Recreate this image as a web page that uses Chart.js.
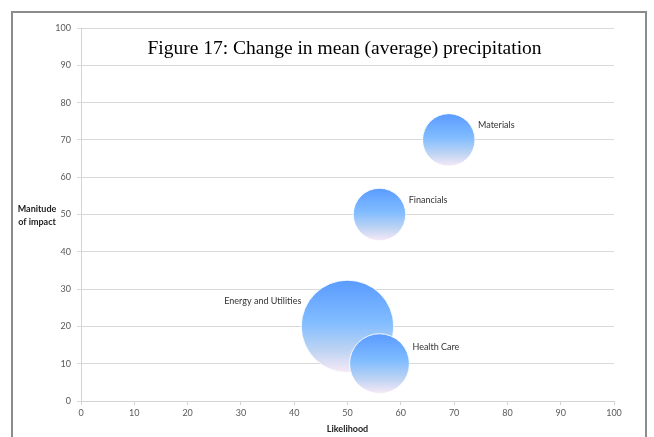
<!DOCTYPE html>
<html>
<head>
<meta charset="utf-8">
<script src="https://cdn.jsdelivr.net/npm/chart.js@4"></script>
<style>
  html, body { margin: 0; padding: 0; background: #fff; overflow: hidden; }
  .wrap { position: relative; width: 654px; height: 437px; }
  .frame { position: absolute; left: 11px; top: 11px; width: 632px; height: 460px;
           border: 2px solid #8c8c8c; pointer-events: none; }
</style>
</head>
<body>
<div class="wrap">
  <canvas id="myChart" width="654" height="437"></canvas>
  <div class="frame"></div>
</div>
<script>
// data
const sectors = ['Materials', 'Financials', 'Energy and Utilities', 'Health Care'];
const likelihood = [69, 56, 50, 56];
const impact = [70, 50, 20, 10];
const bubbleSize = [10, 10, 31, 13];
const labelSide = ['right', 'right', 'left', 'right'];

const chartTitle = 'Figure 17: Change in mean (average) precipitation';
const xTitle = 'Likelihood';
const yTitle = ['Manitude', 'of impact'];

const points = sectors.map((s, i) => ({
    x: likelihood[i],
    y: impact[i],
    r: 8.3 * Math.sqrt(bubbleSize[i])
}));

function bubbleFill(c) {
    const chart = c.chart;
    if (!chart.chartArea || !c.raw) return '#7fb4ff';
    const y = chart.scales.y.getPixelForValue(c.raw.y);
    const g = chart.ctx.createLinearGradient(0, y - c.raw.r, 0, y + c.raw.r);
    g.addColorStop(0, '#5a9bff');
    g.addColorStop(0.45, '#80bcff');
    g.addColorStop(0.75, '#bcd3f3');
    g.addColorStop(1, '#f7e9f6');
    return g;
}

// title, y-axis title and bubble labels
const overlay = {
    id: 'overlay',
    afterDatasetsDraw(chart) {
        const ctx = chart.ctx;
        const area = chart.chartArea;
        ctx.save();
        ctx.fillStyle = '#000';
        ctx.font = '19.5px "Liberation Serif"';
        ctx.textAlign = 'center';
        ctx.textBaseline = 'middle';
        ctx.fillText(chartTitle, (area.left + area.right) / 2 - 3, 49);

        ctx.font = 'bold 9px Lato';
        ctx.fillStyle = '#222';
        ctx.fillText(yTitle[0], 37, 209);
        ctx.fillText(yTitle[1], 37, 222);

        ctx.font = '9px Lato';
        ctx.fillStyle = '#333';
        chart.getDatasetMeta(0).data.forEach((el, i) => {
            const r = points[i].r;
            const y = el.y - r * 0.55;
            if (labelSide[i] === 'left') {
                ctx.textAlign = 'right';
                ctx.fillText(sectors[i], el.x - r, y);
            } else {
                ctx.textAlign = 'left';
                ctx.fillText(sectors[i], el.x + r + 3, y);
            }
        });
        ctx.restore();
    }
};

const ctx = document.getElementById('myChart').getContext('2d');
const myChart = new Chart(ctx, {
    type: 'bubble',
    data: {
        datasets: [{
            label: 'Sectors',
            data: points,
            backgroundColor: bubbleFill,
            borderColor: 'rgba(255,255,255,0.9)',
            borderWidth: 1
        }]
    },
    plugins: [overlay],
    options: {
        responsive: false,
        animation: false,
        layout: {
            autoPadding: false,
            padding: { left: 41, top: 28, right: 40, bottom: 0 }
        },
        plugins: {
            legend: { display: false },
            tooltip: { enabled: false }
        },
        scales: {
            x: {
                type: 'linear',
                min: 0,
                max: 100,
                afterFit: function (scale) { scale.height = 36; },
                ticks: {
                    stepSize: 10,
                    color: '#595959',
                    padding: 3,
                    maxRotation: 0,
                    font: { family: 'Lato', size: 9 }
                },
                grid: {
                    drawOnChartArea: false,
                    color: '#d4d4d4',
                    tickLength: 4
                },
                border: { color: '#d4d4d4' },
                title: {
                    display: true,
                    text: xTitle,
                    color: '#222',
                    font: { family: 'Lato', size: 9, weight: 'bold' },
                    padding: { top: 0, bottom: 3 }
                }
            },
            y: {
                type: 'linear',
                min: 0,
                max: 100,
                afterFit: function (scale) { scale.width = 40; },
                ticks: {
                    stepSize: 10,
                    color: '#595959',
                    padding: 6,
                    font: { family: 'Lato', size: 9 }
                },
                grid: {
                    color: '#d9d9d9',
                    tickLength: 4
                },
                border: { color: '#d4d4d4' }
            }
        }
    }
});
</script>
</body>
</html>
